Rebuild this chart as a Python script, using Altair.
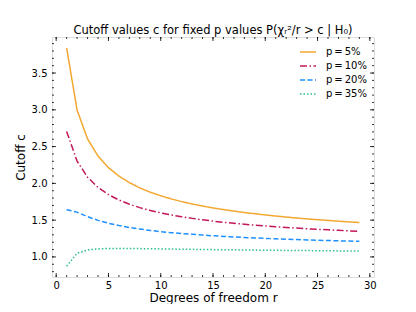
import altair as alt
import pandas as pd

r_values = list(range(1, 30))
c_p05 = [3.841, 2.996, 2.605, 2.372, 2.214, 2.099, 2.010, 1.938, 1.880, 1.831,
         1.789, 1.752, 1.720, 1.692, 1.666, 1.644, 1.623, 1.604, 1.587, 1.571,
         1.556, 1.542, 1.529, 1.517, 1.506, 1.496, 1.486, 1.476, 1.468]
c_p10 = [2.706, 2.303, 2.084, 1.945, 1.847, 1.774, 1.717, 1.670, 1.632, 1.599,
         1.570, 1.546, 1.524, 1.505, 1.487, 1.471, 1.457, 1.444, 1.432, 1.421,
         1.410, 1.401, 1.392, 1.383, 1.375, 1.368, 1.361, 1.354, 1.348]
c_p20 = [1.642, 1.609, 1.547, 1.497, 1.458, 1.426, 1.400, 1.379, 1.360, 1.344,
         1.330, 1.318, 1.307, 1.297, 1.287, 1.279, 1.271, 1.264, 1.258, 1.252,
         1.246, 1.241, 1.236, 1.231, 1.227, 1.223, 1.219, 1.215, 1.212]
c_p35 = [0.873, 1.050, 1.094, 1.109, 1.115, 1.116, 1.115, 1.113, 1.111, 1.109,
         1.107, 1.105, 1.103, 1.101, 1.099, 1.097, 1.096, 1.094, 1.093, 1.091,
         1.090, 1.088, 1.087, 1.086, 1.085, 1.084, 1.082, 1.081, 1.080]
series_labels = ["p\u2009=\u20095%", "p\u2009=\u200910%", "p\u2009=\u200920%", "p\u2009=\u200935%"]
series_colors = ["#F2A732", "#C2185B", "#1E90FF", "#2DBE8A"]
series_dashes = [[1, 0], [7, 2.5, 1.5, 2.5], [5, 2.5], [1.5, 2]]

x_major = [0, 5, 10, 15, 20, 25, 30]
x_minor = list(range(0, 31))
y_major = [1.0, 1.5, 2.0, 2.5, 3.0, 3.5]
y_minor = [round(0.8 + 0.1 * i, 1) for i in range(32)]

rows = []
for lab, vals in zip(series_labels, [c_p05, c_p10, c_p20, c_p35]):
    for r, c in zip(r_values, vals):
        rows.append({"r": r, "c": c, "series": lab})
df = pd.DataFrame(rows)

W, H = 322, 240
xscale = alt.Scale(domain=[-0.4, 30.4], nice=False, zero=False)
yscale = alt.Scale(domain=[0.727, 3.99], nice=False, zero=False)
FONT = "DejaVu Sans"

lines = alt.Chart(df).mark_line(strokeWidth=1.5).encode(
    x=alt.X("r:Q", scale=xscale,
            axis=alt.Axis(title="Degrees of freedom r", values=x_major, format="d",
                          ticks=False, domain=False, grid=False, labelPadding=3,
                          labelFontSize=10, titleFontSize=12, titlePadding=2,
                          labelColor="black", titleColor="black", titleFontWeight="normal",
                          labelFont=FONT, titleFont=FONT)),
    y=alt.Y("c:Q", scale=yscale,
            axis=alt.Axis(title="Cutoff c", values=y_major, format=".1f",
                          ticks=False, domain=False, grid=False, labelPadding=5,
                          labelFontSize=10, titleFontSize=12, titlePadding=4,
                          labelColor="black", titleColor="black", titleFontWeight="normal",
                          labelFont=FONT, titleFont=FONT)),
    color=alt.Color("series:N", sort=series_labels,
                    scale=alt.Scale(domain=series_labels, range=series_colors),
                    legend=alt.Legend(title=None, orient="none", legendX=247, legendY=6,
                                      symbolType="stroke", symbolSize=256,
                                      symbolStrokeWidth=1.5, labelFontSize=10,
                                      labelFont=FONT, labelColor="black",
                                      rowPadding=0, labelOffset=9)),
    strokeDash=alt.StrokeDash("series:N", sort=series_labels,
                              scale=alt.Scale(domain=series_labels, range=series_dashes),
                              legend=None),
)

def ticks_x(vals, length, top):
    d = pd.DataFrame({"v": vals})
    y0, y1 = (0, length) if top else (H, H - length)
    return alt.Chart(d).mark_rule(color="black", strokeWidth=0.8).encode(
        x=alt.X("v:Q", scale=xscale), y=alt.value(y0), y2=alt.value(y1))

def ticks_y(vals, length, right):
    d = pd.DataFrame({"v": vals})
    x0, x1 = (W, W - length) if right else (0, length)
    return alt.Chart(d).mark_rule(color="black", strokeWidth=0.8).encode(
        y=alt.Y("v:Q", scale=yscale), x=alt.value(x0), x2=alt.value(x1))

tick_layers = [
    ticks_x(x_minor, 2, False), ticks_x(x_minor, 2, True),
    ticks_x(x_major, 4, False), ticks_x(x_major, 4, True),
    ticks_y(y_minor, 2, False), ticks_y(y_minor, 2, True),
    ticks_y(y_major, 4, False), ticks_y(y_major, 4, True),
]

chart = alt.layer(lines, *tick_layers).properties(
    width=W, height=H,
    title=alt.Title("Cutoff values c for fixed p values P(χᵣ²/r > c | H₀)",
                    font=FONT, fontSize=11.5, fontWeight="normal", color="black",
                    offset=0, anchor="middle"),
    autosize=alt.AutoSizeParams(type="none"),
    padding={"left": 44, "top": 29, "right": 34, "bottom": 27},
).configure_view(stroke="black", strokeWidth=1).configure(background="white")

chart.save("out.html", embed_options={"renderer": "svg", "actions": False})
